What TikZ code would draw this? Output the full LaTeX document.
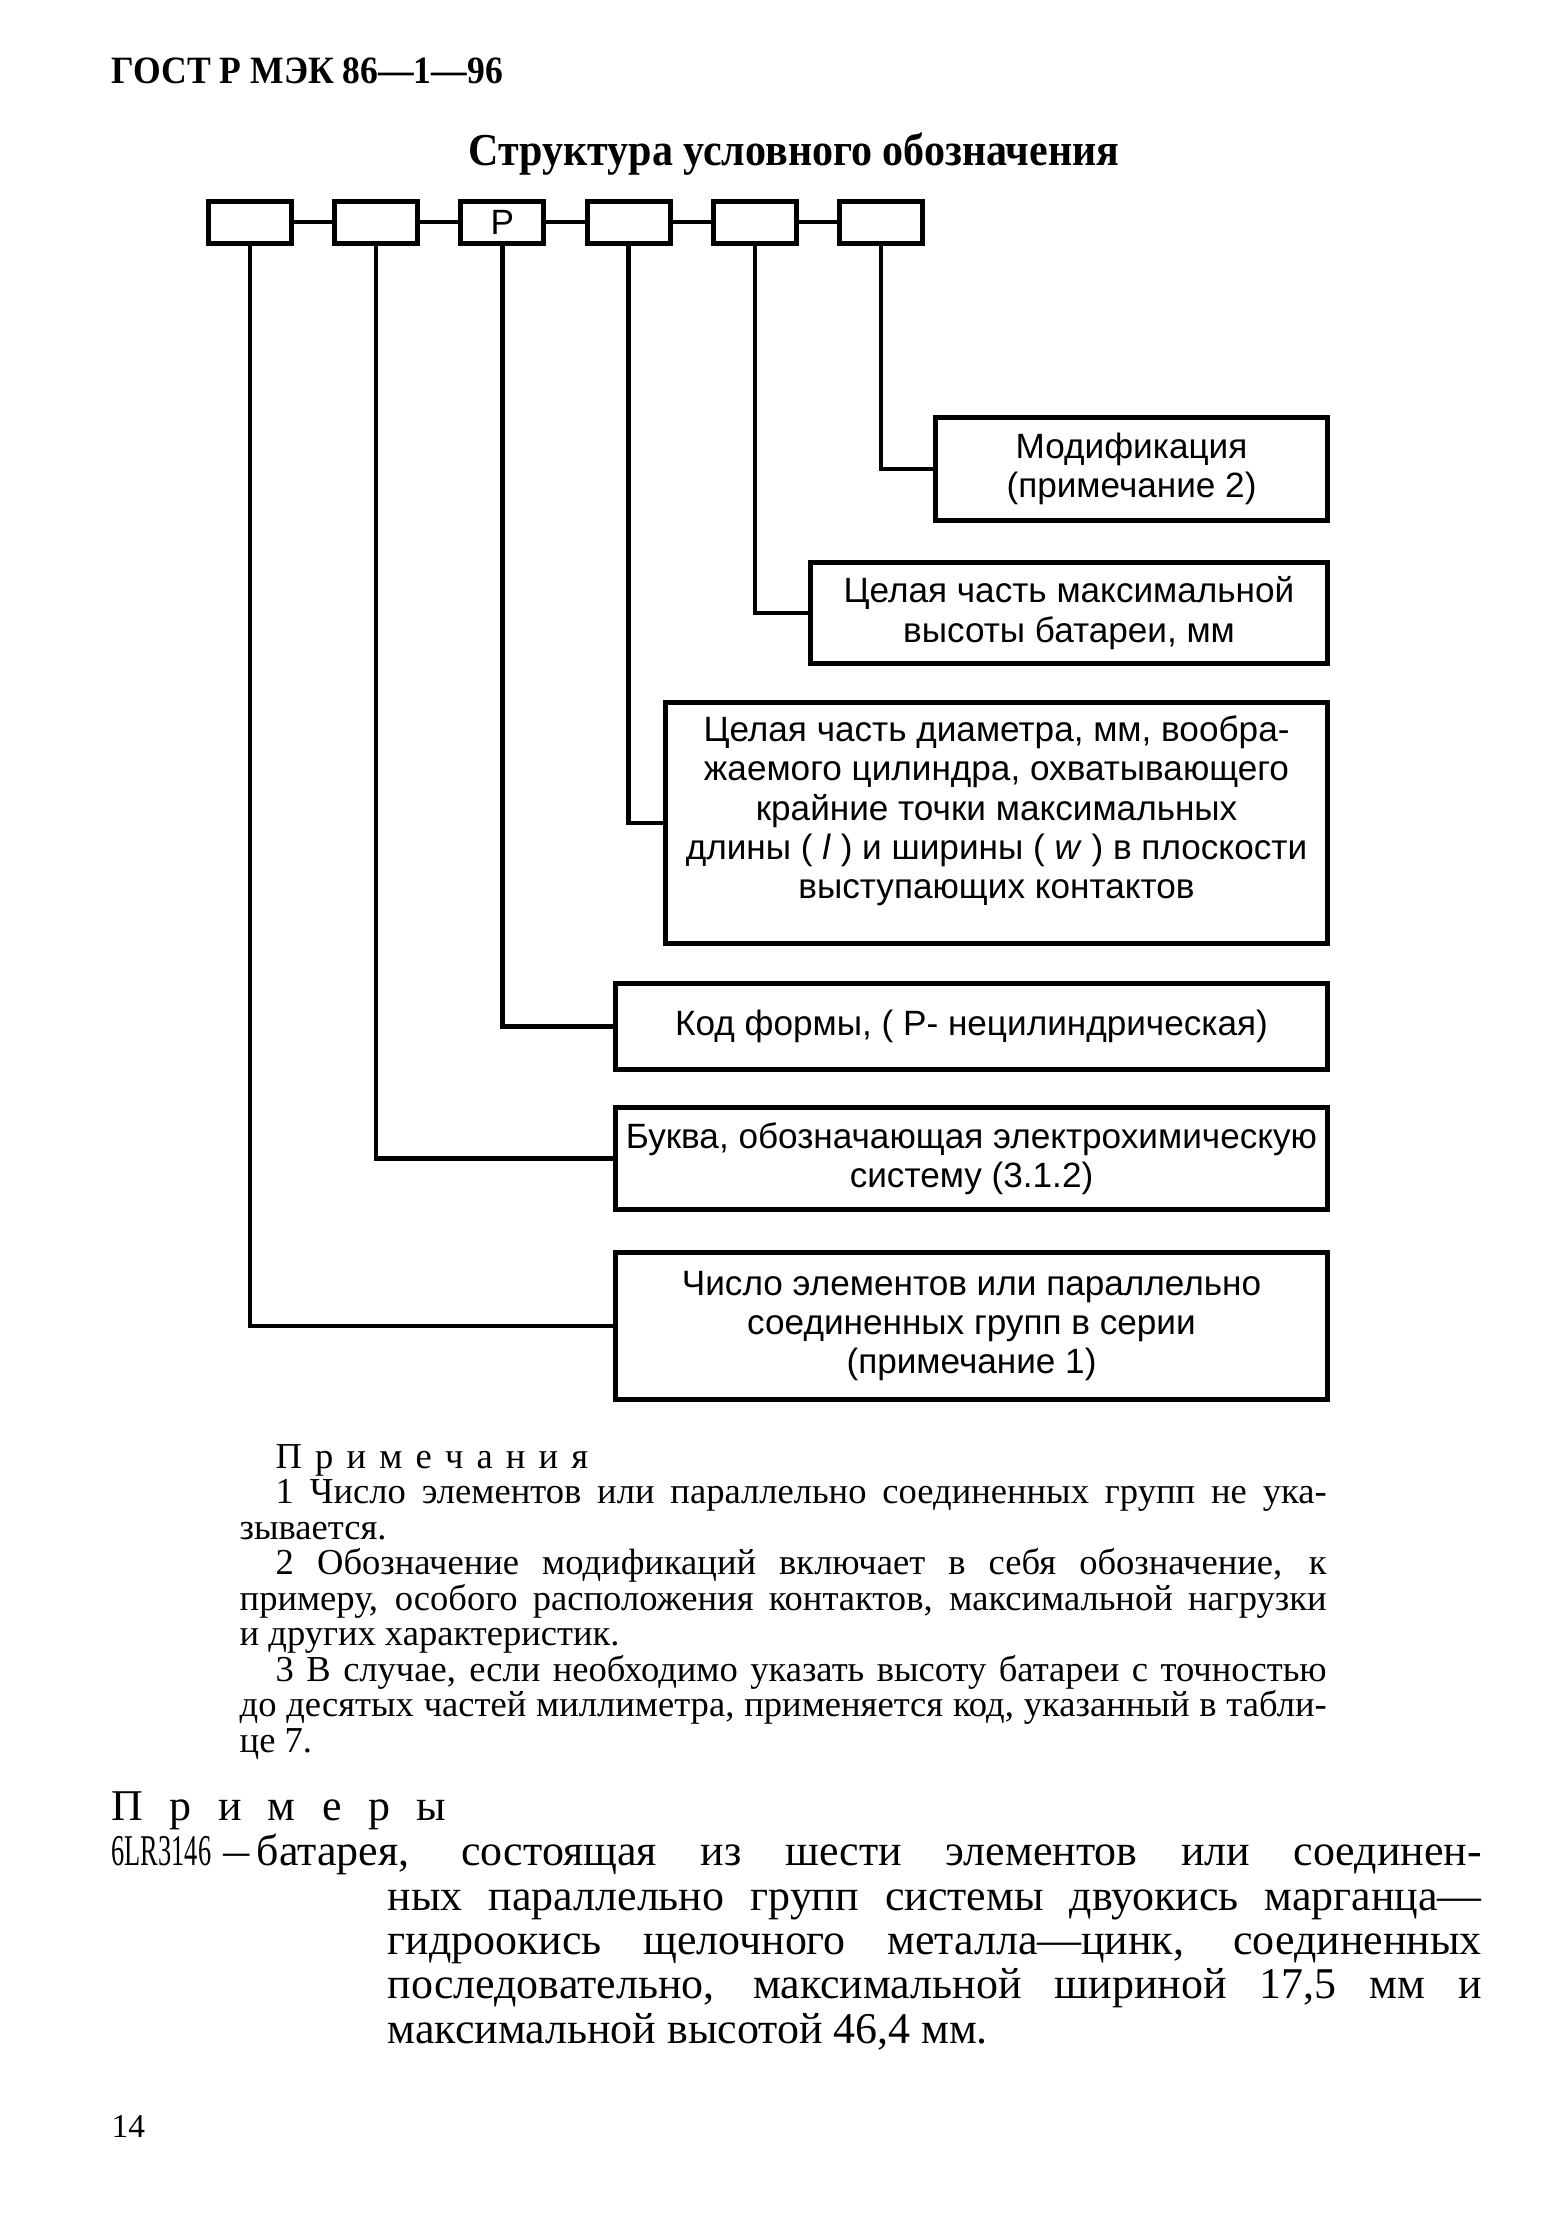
\documentclass[tikz,border=0pt]{standalone}
\usepackage{fontspec}
\setmainfont{Liberation Serif}
\newfontfamily\boxfont{Liberation Sans}
\newfontfamily\condfont[FakeStretch=0.92]{Liberation Serif}
\newfontfamily\narrowfont[FakeStretch=0.6]{Liberation Serif}
\usetikzlibrary{positioning}

% one justified line of fixed width
\newcommand{\jline}[2]{\makebox[#1][s]{#2}}

\begin{document}
\begin{tikzpicture}[x=0.1mm, y=-0.1mm]
        \tikzstyle{cell} = [rectangle, draw, line width=0.5mm, minimum width=8.3mm, minimum height=4.2mm, inner sep=0pt, font=\boxfont\fontsize{10}{11.2}\selectfont]
        \tikzstyle{block} = [rectangle, draw, line width=0.5mm, align=center, inner sep=0pt, anchor=north east, font=\boxfont\fontsize{10}{11.2}\selectfont]
        \tikzstyle{line} = [draw, line width=0.45mm]
        \tikzstyle{notetext} = [anchor=base west, inner sep=0pt, align=left, font=\fontsize{10.4}{10.1}\selectfont]

        \useasboundingbox (0,0) rectangle (1555,2232);

        % Header
        \node [anchor=base west, inner sep=0pt, font=\condfont\bfseries\fontsize{11}{13}\selectfont] (gost) at (111,83) {ГОСТ Р МЭК 86—1—96};
        \node [anchor=base, inner sep=0pt, font=\condfont\bfseries\fontsize{13}{15}\selectfont] (title) at (794,165) {Структура условного обозначения};

        % Designation cells
        \foreach \i/\t in {1/,2/,3/P,4/,5/,6/}
            \node [cell] (c\i) at ({250+126.2*(\i-1)},222) {\t};
        \foreach \i [count=\j from 2] in {1,...,5}
            \path [line] (c\i) -- (c\j);

        % Explanation blocks
        \node [block, minimum width=39.2mm, minimum height=10.3mm] (mod) at (1330,415) {Модификация\\(примечание 2)};
        \node [block, minimum width=51.7mm, minimum height=10.1mm] (hgt) at (1330,560) {Целая часть максимальной\\высоты батареи, мм};
        \node [block, minimum width=66.2mm, minimum height=24.1mm] (diam) at (1330,700) {Целая часть диаметра, мм, вообра-\\жаемого цилиндра, охватывающего\\крайние точки максимальных\\длины ( \textit{l} ) и ширины ( \textit{w} ) в плоскости\\выступающих контактов\\[-0.8mm]};
        \node [block, minimum width=71.2mm, minimum height=8.6mm] (code) at (1330,981) {Код формы, ( Р- нецилиндрическая)};
        \node [block, minimum width=71.2mm, minimum height=10.2mm] (elec) at (1330,1105) {Буква, обозначающая электрохимическую\\систему (3.1.2)};
        \node [block, minimum width=71.2mm, minimum height=14.7mm] (num) at (1330,1250) {Число элементов или параллельно\\соединенных групп в серии\\(примечание 1)};

        % Connectors
        \path [line] (c6.south) |- (mod.west);
        \path [line] (c5.south) |- (hgt.west);
        \path [line] (c4.south) |- (diam.west);
        \path [line] (c3.south) |- (code.west);
        \path [line] (c2.south) |- (elec.west);
        \path [line] (c1.south) |- (num.west);

        % Notes (base = last line)
        \node [notetext] (notes) at (239,1752) {%
            \hspace*{3.6mm}П\hspace{0.36em}р\hspace{0.36em}и\hspace{0.36em}м\hspace{0.36em}е\hspace{0.36em}ч\hspace{0.36em}а\hspace{0.36em}н\hspace{0.36em}и\hspace{0.36em}я\\
            \hspace*{3.6mm}\jline{105.1mm}{1 Число элементов или параллельно соединенных групп не ука-}\\
            зывается.\\
            \hspace*{3.6mm}\jline{105.1mm}{2 Обозначение модификаций включает в себя обозначение, к}\\
            \jline{108.7mm}{примеру, особого расположения контактов, максимальной нагрузки}\\
            и других характеристик.\\
            \hspace*{3.6mm}\jline{105.1mm}{3 В случае, если необходимо указать высоту батареи с точностью}\\
            \jline{108.7mm}{до десятых частей миллиметра, применяется код, указанный в табли-}\\
            це 7.};

        % Example
        \node [anchor=base west, inner sep=0pt, font=\fontsize{12.5}{12.6}\selectfont] (exhead) at (111,1820) {П\hspace{0.6em}р\hspace{0.6em}и\hspace{0.6em}м\hspace{0.6em}е\hspace{0.6em}р\hspace{0.6em}ы};
        \node [anchor=base west, inner sep=0pt, align=left, font=\fontsize{12.5}{12.6}\selectfont] (example) at (111,2043) {%
            \makebox[13.8mm][s]{\narrowfont 6LR3146 —}\hspace{0.7mm}\jline{122.5mm}{батарея, состоящая из шести элементов или соединен-}\\
            \hspace*{27.6mm}\jline{109.4mm}{ных параллельно групп системы двуокись марганца—}\\
            \hspace*{27.6mm}\jline{109.4mm}{гидроокись щелочного металла—цинк, соединенных}\\
            \hspace*{27.6mm}\jline{109.4mm}{последовательно, максимальной шириной 17,5 мм и}\\
            \hspace*{27.6mm}максимальной высотой 46,4 мм.};

        % Page number
        \node [anchor=base west, inner sep=0pt, font=\fontsize{9.5}{11}\selectfont] (page) at (111,2137) {14};
\end{tikzpicture}
\end{document}
